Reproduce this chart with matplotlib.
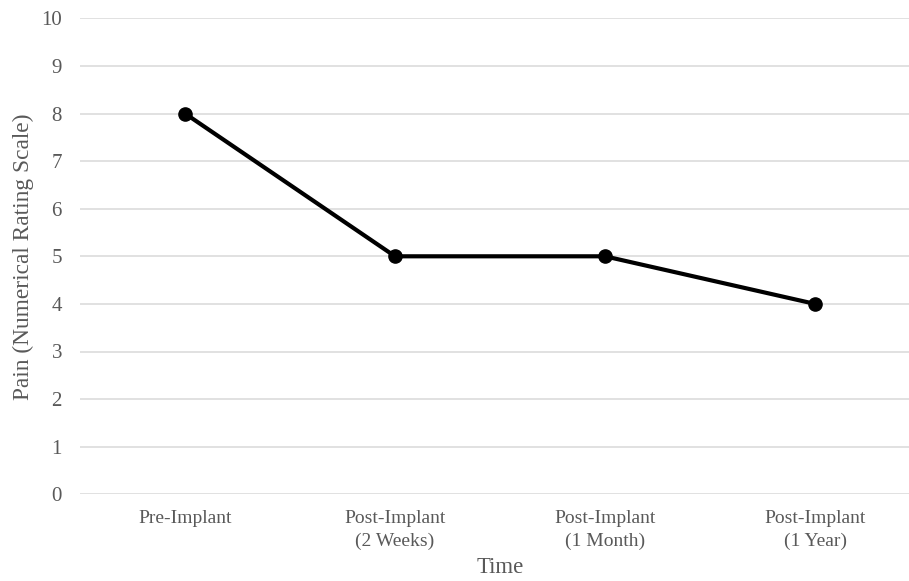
import numpy as np
import matplotlib.pyplot as plt

# data
categories = ["Pre-Implant", "Post-Implant\n(2 Weeks)", "Post-Implant\n(1 Month)", "Post-Implant\n(1 Year)"]
pain_scores = [8, 5, 5, 4]
y_ticks = list(range(0, 11))

plt.rcParams['font.family'] = ['Liberation Serif', 'DejaVu Serif']

fig = plt.figure(figsize=(9.09, 5.81), dpi=100)
# plot area: x 80..920 px (runs past right edge), y 18..494 px
ax = fig.add_axes([80 / 909, (581 - 494.3) / 581, 840 / 909, 476 / 581])

x = np.arange(len(categories))
ax.plot(x, pain_scores, color='black', linewidth=3, marker='o', markersize=9.5, zorder=3)

ax.set_xlim(-0.5, len(categories) - 0.5)
ax.set_ylim(0, 10)
ax.set_yticks(y_ticks)
ax.set_xticks(x)
ax.set_xticklabels(categories)

ax.grid(axis='y', color='#d9d9d9', linewidth=1.1)
ax.set_axisbelow(True)
for side in ['top', 'right', 'left', 'bottom']:
    ax.spines[side].set_visible(False)

ax.tick_params(axis='x', length=0, labelsize=14, colors='#595959', pad=11)
ax.tick_params(axis='y', length=0, labelsize=15, colors='#595959', pad=13)
for lab in ax.get_xticklabels():
    lab.set_linespacing(1.45)

ax.set_xlabel("Time", fontsize=16.4, color='#595959')
ax.set_ylabel("Pain (Numerical Rating Scale)", fontsize=16.8, color='#595959')
ax.xaxis.set_label_coords((500 - 80) / 840, -(557 - 494.3) / 476)
ax.yaxis.set_label_coords(-(80 - 34) / 840, 0.5)

fig.savefig("out.png", dpi=100)
